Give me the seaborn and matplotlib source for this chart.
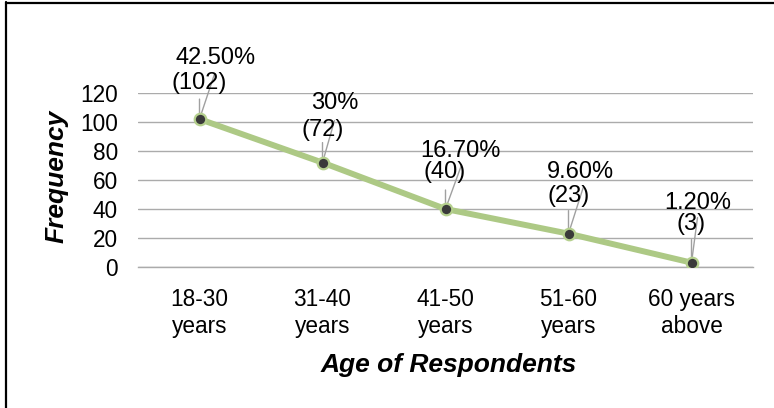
import numpy as np
import pandas as pd
import matplotlib
matplotlib.use("Agg")
import matplotlib.pyplot as plt
from matplotlib.lines import Line2D
import seaborn as sns

# Data
age_groups = ["18-30\nyears", "31-40\nyears", "41-50\nyears", "51-60\nyears", "60 years\nabove"]
frequency = [102, 72, 40, 23, 3]
percent_labels = ["42.50%", "30%", "16.70%", "9.60%", "1.20%"]
y_ticks = [0, 20, 40, 60, 80, 100, 120]

# Data-label placement (pixel offsets from each point)
pct_dx = [16, 12, 15, 12, 6]
pct_dy = [55, 54, 52, 56, 54]
cnt_dx = [0, 0, -1, 0, 0]
cnt_dy = [30, 27, 31, 32, 33]
slant_dx = [15, 12, 16, 15, 6]
slant_dy = [45, 42, 44, 47, 45]
stem_len = [20, 20, 19, 23, 23]

GREEN = "#ADC985"
GREEN_EDGE = "#B5D08E"
GRID = "#ABABAB"
LEADER = "#A0A0A0"

sns.set_style("white")
plt.rcParams["font.family"] = ["Liberation Sans", "DejaVu Sans"]
plt.rcParams["text.color"] = "black"
plt.rcParams["axes.labelcolor"] = "black"
plt.rcParams["xtick.color"] = "black"
plt.rcParams["ytick.color"] = "black"

W, H = 774, 408
fig = plt.figure(figsize=(W / 100, H / 100), dpi=100)
ax = fig.add_axes([138 / W, 1 - 267 / H, 615 / W, 174 / H])

df = pd.DataFrame({"age": age_groups, "freq": frequency})
sns.lineplot(
    data=df, x="age", y="freq", ax=ax, sort=False,
    color=GREEN, linewidth=4.3,
    marker="o", markersize=8.3, markerfacecolor="#3A3A3A",
    markeredgecolor=GREEN_EDGE, markeredgewidth=1.6, zorder=4,
)

ax.set_xlim(-0.5, len(age_groups) - 0.5)
ax.set_ylim(0, 120)
ax.set_yticks(y_ticks)
ax.set_xticks(range(len(age_groups)))
ax.set_xticklabels(age_groups, linespacing=1.25)
ax.set_xticks(np.arange(-0.5, len(age_groups), 1.0), minor=True)

ax.tick_params(axis="x", which="major", length=0, pad=15, labelsize=16.3)
ax.tick_params(axis="x", which="minor", length=4.3, width=1, color=GRID, direction="out")
ax.tick_params(axis="y", length=0, pad=14.4, labelsize=16.3)

for side in ["top", "right", "left"]:
    ax.spines[side].set_visible(False)
ax.spines["bottom"].set_color(GRID)
ax.spines["bottom"].set_linewidth(1)

ax.yaxis.grid(True, color=GRID, linewidth=1)
ax.xaxis.grid(False)
ax.set_axisbelow(True)

ax.set_xlabel("Age of Respondents", fontsize=19, fontweight="bold",
              fontstyle="italic", va="baseline", color="black")
ax.xaxis.set_label_coords(0.5046, -0.6017)
ax.set_ylabel("Frequency", fontsize=19, fontweight="bold",
              fontstyle="italic", va="center", color="black")
ax.yaxis.set_label_coords(-0.132, 0.519)

# Data labels with leader lines
for i, (v, pct) in enumerate(zip(frequency, percent_labels)):
    line_kw = dict(arrowstyle="-", color=LEADER, lw=1, shrinkA=0, shrinkB=0)
    ax.annotate("", xy=(i, v), xytext=(0, stem_len[i]), textcoords="offset pixels",
                arrowprops=line_kw, zorder=3, annotation_clip=False)
    ax.annotate("", xy=(i, v), xytext=(slant_dx[i], slant_dy[i]), textcoords="offset pixels",
                arrowprops=line_kw, zorder=3, annotation_clip=False)
    ax.annotate(pct, xy=(i, v), xytext=(pct_dx[i], pct_dy[i]), textcoords="offset pixels",
                ha="center", va="baseline", fontsize=17, zorder=5, annotation_clip=False)
    ax.annotate(f"({v})", xy=(i, v), xytext=(cnt_dx[i], cnt_dy[i]), textcoords="offset pixels",
                ha="center", va="baseline", fontsize=17, zorder=5, annotation_clip=False)

# Outer frame (left and top edges)
fig.add_artist(Line2D([6 / W, 6 / W], [0, 1 - 2 / H], transform=fig.transFigure,
                      color="black", lw=1.6))
fig.add_artist(Line2D([6 / W, 1], [1 - 2.5 / H, 1 - 2.5 / H], transform=fig.transFigure,
                      color="black", lw=1.6))

fig.savefig("out.png", dpi=100)
